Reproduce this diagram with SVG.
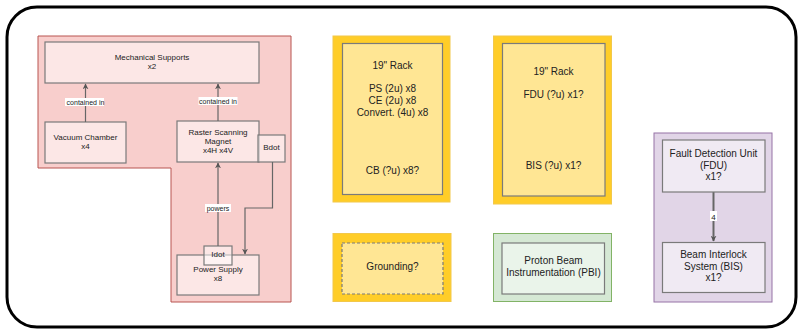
<svg xmlns="http://www.w3.org/2000/svg" width="801" height="331" viewBox="0 0 801 331">
<defs>
<marker id="arr" viewBox="0 0 10 10" refX="9" refY="5" markerWidth="6" markerHeight="6" orient="auto-start-reverse" markerUnits="userSpaceOnUse">
<path d="M0,0 L10,5 L0,10 L3,5 Z" fill="#555"/>
</marker>
</defs>
<style>
text{font-family:"Liberation Sans",Arial,sans-serif;fill:#222;text-anchor:middle}
.t8{font-size:8px}
.t7{font-size:7px}
.t10{font-size:10px}
.inner{fill:#ffffff;fill-opacity:0.5;stroke:#7a7a7a;stroke-width:1.2}
.yel{fill:#ffcd28;stroke:#f2c84b;stroke-width:1}
.lbl{fill:#ffffff}
.con{fill:none;stroke:#666;stroke-width:1.2}
</style>
<rect x="7" y="7" width="789" height="320" rx="30" ry="30" fill="#ffffff" stroke="#000" stroke-width="3"/>

<g id="red-area">
<path d="M38,36 H291 V302 H171 V168 H38 Z" fill="#f8cecc" stroke="#b85450" stroke-width="1"/>
</g>
<g id="purple-area">
<rect x="654" y="133" width="118" height="169" fill="#e1d5e7" stroke="#9673a6" stroke-width="1"/>
</g>
<g id="mech">
<rect class="inner" x="45" y="42" width="214" height="41"/>
<text class="t8" x="152" y="60">Mechanical Supports</text>
<text class="t8" x="152" y="69">x2</text>
</g>
<g id="vacuum">
<rect class="inner" x="45" y="122" width="81" height="41"/>
<text class="t8" x="85.5" y="140">Vacuum Chamber</text>
<text class="t8" x="85.5" y="149">x4</text>
</g>
<g id="raster">
<rect class="inner" x="177" y="121" width="82" height="41"/>
<text class="t8" x="218" y="135">Raster Scanning</text>
<text class="t8" x="218" y="144">Magnet</text>
<text class="t8" x="218" y="153">x4H x4V</text>
</g>
<g id="bdot">
<rect class="inner" x="258" y="135" width="27" height="27"/>
<text class="t8" x="271.5" y="150">Bdot</text>
</g>
<g id="psu">
<rect class="inner" x="177" y="255" width="82" height="40"/>
<text class="t8" x="218" y="272">Power Supply</text>
<text class="t8" x="218" y="281">x8</text>
</g>
<g id="idot">
<rect class="inner" x="204" y="246" width="28" height="19"/>
<text class="t8" x="218" y="257">Idot</text>
</g>

<g id="connectors">
<line class="con" x1="85.5" y1="122" x2="85.5" y2="84" marker-end="url(#arr)"/>
<line class="con" x1="218" y1="121" x2="218" y2="84" marker-end="url(#arr)"/>
<line class="con" x1="218" y1="246" x2="218" y2="163" marker-end="url(#arr)"/>
<polyline class="con" points="272.5,162 272.5,208 245,208 245,254" marker-end="url(#arr)"/>
<line x1="713.5" y1="192" x2="713.5" y2="241" stroke="#666" stroke-width="2" marker-end="url(#arr)"/>
<rect class="lbl" x="65" y="98" width="39" height="8"/>
<text class="t7" x="85.5" y="104.5">contained in</text>
<rect class="lbl" x="198.5" y="97" width="39" height="8"/>
<text class="t7" x="218" y="103.5">contained in</text>
<rect class="lbl" x="205" y="204" width="26" height="8"/>
<text class="t7" x="218" y="210.5">powers</text>
<rect class="lbl" x="710" y="211" width="7" height="10"/>
<text class="t8" x="713.5" y="219.5">4</text>
</g>

<g id="rack1">
<rect class="yel" x="333" y="36" width="117" height="166"/>
<rect class="inner" x="342.5" y="43.5" width="100" height="151"/>
<text class="t10" x="392.5" y="69">19" Rack</text>
<text class="t10" x="392.5" y="92">PS (2u) x8</text>
<text class="t10" x="392.5" y="104">CE (2u) x8</text>
<text class="t10" x="392.5" y="116">Convert. (4u) x8</text>
<text class="t10" x="392.5" y="174">CB (?u) x8?</text>
</g>
<g id="rack2">
<rect class="yel" x="493.5" y="36" width="118" height="168"/>
<rect class="inner" x="502.5" y="43.5" width="102.5" height="152.5"/>
<text class="t10" x="553.5" y="74.5">19" Rack</text>
<text class="t10" x="553.5" y="97.5">FDU (?u) x1?</text>
<text class="t10" x="553.5" y="169">BIS (?u) x1?</text>
</g>
<g id="grounding">
<rect class="yel" x="333" y="233.5" width="118" height="68"/>
<rect class="inner" x="342" y="243" width="101" height="51" stroke-dasharray="3,2"/>
<text class="t10" x="392.5" y="270">Grounding?</text>
</g>
<g id="pbi">
<rect x="493.5" y="233.5" width="118" height="68" fill="#d5e8d4" stroke="#82b366" stroke-width="1"/>
<rect class="inner" x="502" y="243" width="102.5" height="51"/>
<text class="t10" x="553.5" y="263.5">Proton Beam</text>
<text class="t10" x="553.5" y="275.5">Instrumentation (PBI)</text>
</g>
<g id="fdu">
<rect class="inner" x="662.5" y="140" width="102.5" height="52"/>
<text class="t10" x="713.5" y="156.5">Fault Detection Unit</text>
<text class="t10" x="713.5" y="169">(FDU)</text>
<text class="t10" x="713.5" y="180">x1?</text>
</g>
<g id="bis">
<rect class="inner" x="662.5" y="242.5" width="102.5" height="50"/>
<text class="t10" x="713.5" y="257.5">Beam Interlock</text>
<text class="t10" x="713.5" y="270">System (BIS)</text>
<text class="t10" x="713.5" y="281">x1?</text>
</g>
</svg>
